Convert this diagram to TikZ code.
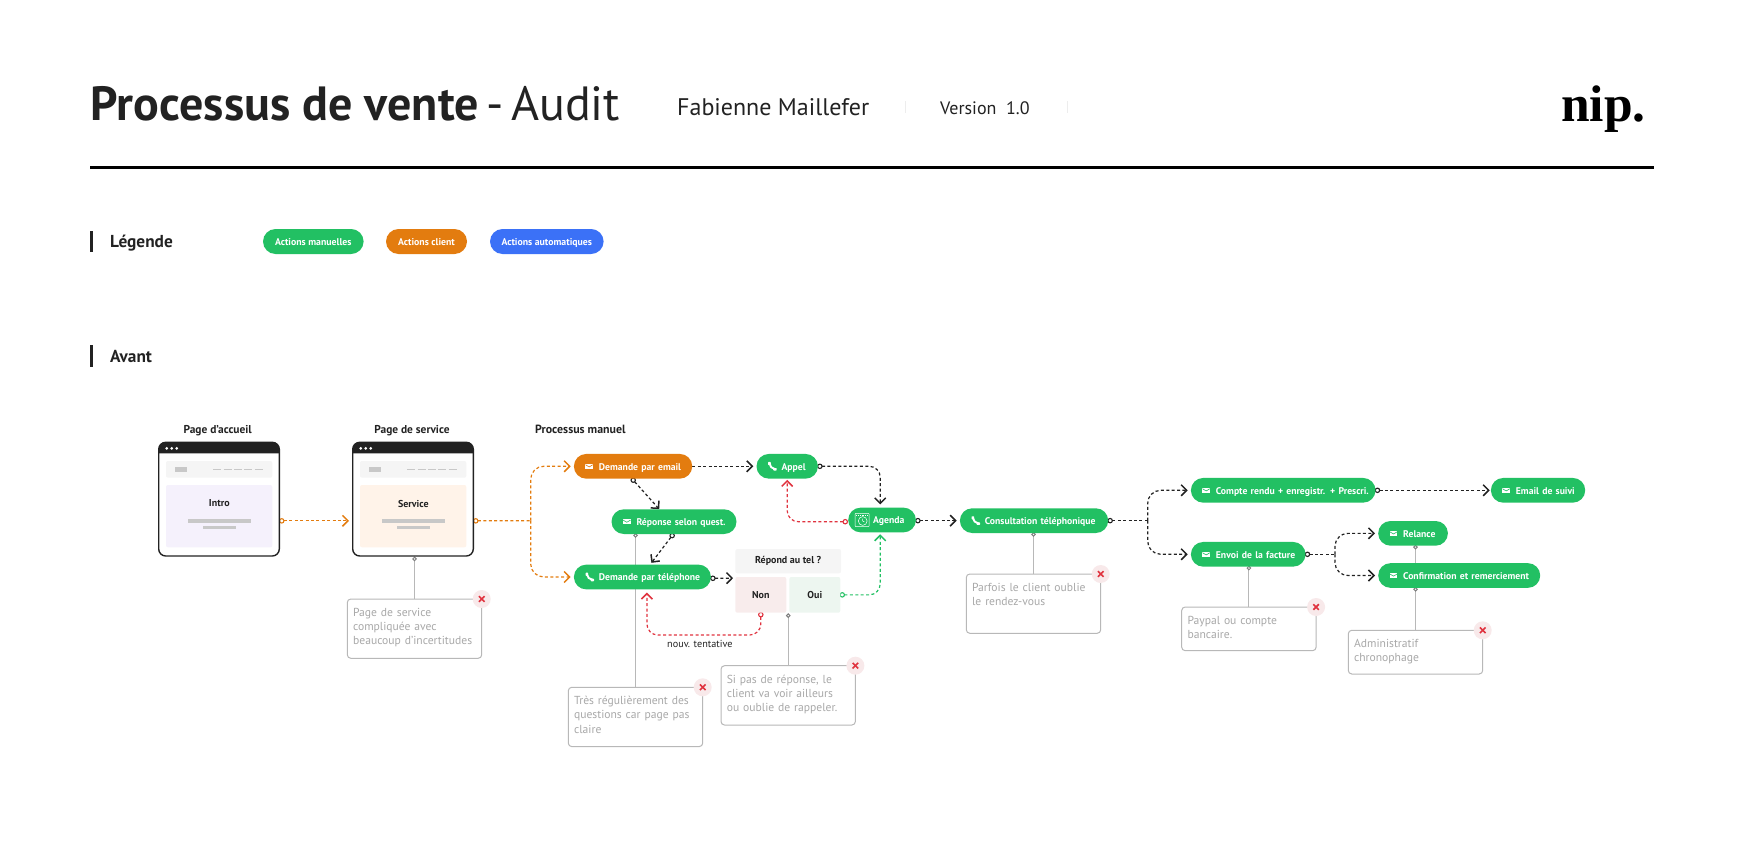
\documentclass[tikz,border=0pt]{standalone}
\usepackage{fontspec}
\setmainfont{PT Sans}
\newfontfamily\logofont{Liberation Serif}
\usetikzlibrary{arrows.meta, backgrounds}

\definecolor{pillgreen}{HTML}{22C063}
\definecolor{pillorange}{HTML}{E37C0F}
\definecolor{pillblue}{HTML}{3B71F7}
\definecolor{ink}{HTML}{222222}
\definecolor{lavender}{HTML}{F5F1FC}
\definecolor{peach}{HTML}{FFF3E9}
\definecolor{navgrey}{HTML}{F5F5F5}
\definecolor{bargrey}{HTML}{C8C8C8}
\definecolor{notegrey}{HTML}{A8A8A8}
\definecolor{noline}{HTML}{B8B8B8}
\definecolor{rednote}{HTML}{E0333F}
\definecolor{redbadge}{HTML}{F8E9EA}
\definecolor{nonpink}{HTML}{F8ECEC}
\definecolor{ouimint}{HTML}{EDF6F0}

\tikzset{
    pill/.style={text=white, font=\fontsize{9.7}{12}\selectfont\bfseries, rounded corners=12.3pt,
        anchor=west, inner xsep=0pt, inner ysep=0pt, minimum height=24.7pt,
        text height=9.5pt, text depth=2pt, align=left, text width=#1,
        execute at begin node={\hspace*{25pt}}},
    legendpill/.style={text=white, font=\fontsize{9.8}{12}\selectfont\bfseries, rounded corners=12.5pt,
        inner sep=0pt, minimum height=25pt, minimum width=#1, text height=9pt, text depth=2pt},
    heading/.style={anchor=base west, inner sep=0pt, text=ink, font=\fontsize{17.3}{20}\selectfont\bfseries},
    caption/.style={anchor=base, inner sep=0pt, text=ink, font=\fontsize{11.4}{14}\selectfont\bfseries},
    boxlabel/.style={inner sep=0pt, text=ink, font=\fontsize{10}{12}\selectfont\bfseries},
    window/.style={draw=ink, line width=1.4pt, fill=white, rounded corners=7pt, inner sep=0pt,
        minimum width=120.6pt, minimum height=113.7pt},
    note/.style={draw=noline, line width=1pt, fill=white, rounded corners=3.5pt, anchor=north west,
        outer sep=0pt, inner xsep=5.8pt, inner ysep=0pt, text width=122.8pt, align=left, text=notegrey,
        text height=17.3pt, text depth=#1,
        font=\fontsize{11.6}{14.33}\selectfont,
        execute at begin node={\hyphenpenalty=10000}},
    badge/.style={circle, fill=redbadge, inner sep=0pt, minimum size=18pt,
        path picture={
            \draw[rednote, line width=1.6pt] ([shift={(-2.8pt,-2.8pt)}]path picture bounding box.center) -- ([shift={(2.8pt,2.8pt)}]path picture bounding box.center);
            \draw[rednote, line width=1.6pt] ([shift={(-2.8pt,2.8pt)}]path picture bounding box.center) -- ([shift={(2.8pt,-2.8pt)}]path picture bounding box.center);
        }},
    arrow/.style={draw=#1, line width=1.2pt, dash pattern=on 3pt off 2.4pt, rounded corners=11pt,
        shorten >=3pt, -{Straight Barb[length=5.5pt,width=11pt,line width=1.5pt]}},
    dotarrow/.style={arrow=#1, shorten <=-1pt,
        {Circle[open,fill=white,length=5.5pt,width=5.5pt,line width=1.1pt]}-{Straight Barb[length=5.5pt,width=11pt,line width=1.5pt]}},
    plainpath/.style={draw=#1, line width=1.2pt, dash pattern=on 3pt off 2.4pt, rounded corners=11pt, shorten <=-1pt,
        {Circle[open,fill=white,length=5.5pt,width=5.5pt,line width=1.1pt]}-},
    remark/.style={draw=noline, line width=1pt, shorten <=-1pt,
        {Circle[open,fill=white,length=4.5pt,width=4.5pt,line width=1pt,color=gray]}-}
}

% icons on the left of a pill
\newcommand{\mailicon}[2]{
    \begin{scope}[shift={([xshift=15.5pt]#1.west)}]
        \fill[white] (-3.8,-2.5) rectangle (3.8,2.5);
        \draw[#2, line width=0.6pt] (-3.8,-1.6) -- (0,0.6) -- (3.8,-1.6);
    \end{scope}
}
\newcommand{\phoneicon}[1]{
    \begin{scope}[shift={([xshift=16pt]#1.west)}]
        \draw[white, line width=1.9pt] (-2.9,-3) .. controls (-2.6,0) and (-0.2,2.6) .. (3,3);
        \fill[white, rounded corners=0.7pt] (-4.2,-4.4) rectangle (-1.5,-1.2);
        \fill[white, rounded corners=0.7pt] (0.9,1.7) rectangle (4.4,4.3);
    \end{scope}
}

\begin{document}
\begin{tikzpicture}[x=1pt, y=-1pt]
    \useasboundingbox (0,0) rectangle (1746,851);

    % header
    \node[anchor=base west, inner sep=0pt, text=ink, font=\fontsize{48}{50}\selectfont] (title) at (90.5,121) {\textbf{Processus de vente}\hspace{8pt}-\hspace{7pt}Audit};
    \node[anchor=base west, inner sep=0pt, text=ink, font=\fontsize{24}{26}\selectfont] (author) at (677,115) {Fabienne Maillefer};
    \node[anchor=base west, inner sep=0pt, text=ink, font=\fontsize{18}{20}\selectfont] (version) at (940,114) {Version\ \ 1.0};
    \node[anchor=base east, inner sep=0pt, text=black, font=\fontsize{51.5}{54}\selectfont\logofont\bfseries] (logo) at (1646,121.5) {nip.};
    \draw[navgrey!70!gray!40, line width=1pt] (905,101) -- (905,113);
    \draw[navgrey!70!gray!40, line width=1pt] (1067,101) -- (1067,113);
    \draw[black, line width=3pt] (90,167.7) -- (1653.6,167.7);

    % legend
    \fill[ink] (90,231) rectangle (92.5,252);
    \node[heading] (legend) at (110,247.6) {Légende};
    \node[legendpill=100.6pt, fill=pillgreen] (legendgreen) at (313.3,241.5) {Actions manuelles};
    \node[legendpill=81pt, fill=pillorange] (legendorange) at (426.5,241.5) {Actions client};
    \node[legendpill=113.6pt, fill=pillblue] (legendblue) at (546.8,241.5) {Actions automatiques};

    % section
    \fill[ink] (90,345) rectangle (92.5,366.7);
    \node[heading] (before) at (110,362.7) {Avant};

    % web pages
    \node[caption] (homecap) at (217.7,433) {Page d’accueil};
    \node[caption] (servicecap) at (412,433) {Page de service};
    \node[caption, anchor=base west, font=\fontsize{11.9}{14}\selectfont\bfseries] (manualcap) at (535,433) {Processus manuel};
    \foreach \wx/\wname/\wtint/\wtext in {0/home/lavender/Intro, 194/service/peach/Service} {
        \begin{scope}[xshift=\wx pt]
            \node[window] (\wname) at (219,499.15) {};
            \fill[ink, rounded corners=7pt] (158.7,453.3) [sharp corners] -- (158.7,453.3) [rounded corners=7pt] -- (158.7,442.3) -- (279.3,442.3) [sharp corners] -- (279.3,453.3) -- cycle;
            \foreach \dx in {166.7,171.7,176.7}
                \fill[white] (\dx,448.3) circle (1.5);
            \fill[navgrey, rounded corners=2pt] (166,461) rectangle (272.3,477.7);
            \fill[bargrey] (174.7,467.3) rectangle (187,471.7);
            \draw[bargrey, line width=1.1pt, dash pattern=on 8pt off 2.35pt] (213.3,469.3) -- (262.7,469.3);
            \fill[\wtint, rounded corners=2pt] (166,485) rectangle (272.3,547.3);
            \node[boxlabel] (\wname-text) at (219.3,503.5) {\wtext};
            \fill[bargrey] (188,519.3) rectangle (251,523);
            \fill[bargrey] (203,525.7) rectangle (236,529);
        \end{scope}
    }

    % process steps
    \node[pill=118.3pt, fill=pillorange] (dmail) at (573.7,466.3) {\mbox{Demande par email}};
    \node[pill=125pt, fill=pillgreen] (reply) at (611.3,521.65) {\mbox{Réponse selon quest.}};
    \node[pill=137pt, fill=pillgreen] (dtel) at (573.7,577) {\mbox{Demande par téléphone}};
    \node[pill=61.4pt, fill=pillgreen] (call) at (756.3,466.3) {\mbox{Appel}};
    \node[pill=67.7pt, fill=pillgreen] (agenda) at (848,520) {\mbox{Agenda}};
    \node[pill=148.3pt, fill=pillgreen] (consult) at (959.7,520.65) {\mbox{Consultation téléphonique}};
    \node[pill=184.6pt, fill=pillgreen] (report) at (1190.7,490.3) {\mbox{Compte rendu + enregistr. + Prescri.}};
    \node[pill=114.6pt, fill=pillgreen] (invoice) at (1190.7,554.3) {\mbox{Envoi de la facture}};
    \node[pill=94.3pt, fill=pillgreen] (followup) at (1490.7,490.3) {\mbox{Email de suivi}};
    \node[pill=69.7pt, fill=pillgreen] (remind) at (1378,533.35) {\mbox{Relance}};
    \node[pill=162pt, fill=pillgreen] (thanks) at (1378,575.5) {\mbox{Confirmation et remerciement}};

    % icons
    \mailicon{dmail}{pillorange}
    \mailicon{reply}{pillgreen}
    \mailicon{report}{pillgreen}
    \mailicon{invoice}{pillgreen}
    \mailicon{followup}{pillgreen}
    \mailicon{remind}{pillgreen}
    \mailicon{thanks}{pillgreen}
    \phoneicon{dtel}
    \phoneicon{call}
    \phoneicon{consult}
    \begin{scope}[shift={([xshift=14.2pt]agenda.west)}]
        \draw[white, line width=0.5pt, rounded corners=0.8pt] (-7,-6.7) rectangle (7,6.7);
        \draw[white, line width=0.7pt, dash pattern=on 0.9pt off 0.9pt] (-6,-5) -- (6,-5);
        \draw[white, line width=0.5pt] (0.5,1) circle (4.4);
        \draw[white, line width=0.5pt] (0.5,-1.4) -- (0.5,1) -- (2.2,2);
    \end{scope}

    % question box
    \node[fill=navgrey, rounded corners=2pt, minimum width=105.7pt, minimum height=24.3pt, inner sep=0pt, text=ink, font=\fontsize{10}{13}\selectfont\bfseries] (answer) at (788.2,561.15) {Répond au tel ?};
    \node[boxlabel, fill=nonpink, rounded corners=2pt, minimum width=51pt, minimum height=35.7pt] (no) at (760.8,594.85) {Non};
    \node[boxlabel, fill=ouimint, rounded corners=2pt, minimum width=51pt, minimum height=35.7pt] (yes) at (814.8,594.85) {Oui};
    \node[anchor=base west, inner sep=0pt, text=ink, font=\fontsize{10.2}{13}\selectfont] (retrylabel) at (667,647.3) {nouv. tentative};

    % notes
    \node[note=42pt] (servicenote) at (347.3,599) {Page de service\\compliquée avec\\beaucoup d’incertitudes};
    \node[note=42pt] (replynote) at (568.3,687.3) {Très régulièrement des\\questions car page pas\\claire};
    \node[note=42pt] (callnote) at (721,665.7) {Si pas de réponse, le\\client va voir ailleurs\\ou oublie de rappeler.};
    \node[note=42pt] (consultnote) at (966.3,574) {Parfois le client oublie\\le rendez-vous};
    \node[note=26.4pt] (invoicenote) at (1181.7,607) {Paypal ou compte\\bancaire.};
    \node[note=26.4pt] (thanksnote) at (1348.3,630.3) {Administratif\\chronophage};
    \node[badge] (servicebadge) at (servicenote.north east) {};
    \node[badge] (replybadge) at (replynote.north east) {};
    \node[badge] (callbadge) at (callnote.north east) {};
    \node[badge] (consultbadge) at (consultnote.north east) {};
    \node[badge] (invoicebadge) at (invoicenote.north east) {};
    \node[badge] (thanksbadge) at (thanksnote.north east) {};

    % split points
    \coordinate (pagesplit) at (530.7,520.7);
    \coordinate (consultsplit) at (1147.7,520.65);
    \coordinate (invoicesplit) at (1335,554.3);
    \coordinate (retrymid) at (700,635);

    \begin{scope}[on background layer]
        % remarks
        \draw[remark, shorten <=0pt] (service.south -| servicenote.north) -- (servicenote.north);
        \draw[remark] (reply.south -| replynote.north) -- (replynote.north);
        \draw[remark, shorten <=0.5pt] (no.south -| callnote.north) -- (callnote.north);
        \draw[remark] (consult.south -| consultnote.north) -- (consultnote.north);
        \draw[remark] (invoice.south -| invoicenote.north) -- (invoicenote.north);
        \draw[remark] (remind.south -| thanksnote.north) -- (thanks.north -| thanksnote.north);
        \draw[remark] (thanks.south -| thanksnote.north) -- (thanksnote.north);
        % orange flows
        \draw[dotarrow=pillorange] ([yshift=-21.7pt]home.east) -- ([yshift=-21.7pt]service.west);
        \draw[plainpath=pillorange] ([yshift=-21.7pt]service.east) -- (pagesplit);
        \draw[arrow=pillorange, rounded corners=13pt] (pagesplit) |- (dmail.west);
        \draw[arrow=pillorange, rounded corners=13pt] (pagesplit) |- (dtel.west);
        % black flows
        \draw[arrow=ink] (dmail.east) -- (call.west);
        \draw[dotarrow=ink] (call.east) -| ([xshift=-1.85pt]agenda.north);
        \draw[dotarrow=ink, shorten >=0pt] ([xshift=-1pt]dmail.south) -- ([xshift=-14.8pt]reply.north);
        \draw[dotarrow=ink, shorten >=2pt] ([xshift=-0.8pt]reply.south) -- ([xshift=7.8pt]dtel.north);
        \draw[dotarrow=ink, shorten >=2pt] ([yshift=-1.3pt]dtel.east) -- ([yshift=-1.3pt]no.north west);
        \draw[dotarrow=ink] ([yshift=-0.65pt]agenda.east) -- (consult.west);
        \draw[plainpath=ink] (consult.east) -- (consultsplit);
        \draw[arrow=ink, rounded corners=13pt] (consultsplit) |- (report.west);
        \draw[arrow=ink, rounded corners=13pt] (consultsplit) |- (invoice.west);
        \draw[dotarrow=ink, shorten >=1pt] (report.east) -- (followup.west);
        \draw[plainpath=ink] (invoice.east) -- (invoicesplit);
        \draw[arrow=ink, rounded corners=13pt] (invoicesplit) |- (remind.west);
        \draw[arrow=ink, rounded corners=13pt] (invoicesplit) |- (thanks.west);
        % red and green flows
        \draw[dotarrow=rednote, shorten <=0pt, shorten >=1pt] ([yshift=-1.7pt]agenda.west) -| (call.south);
        \draw[dotarrow=rednote] (no.south) |- (retrymid) -| ([xshift=4.5pt]dtel.south);
        \draw[dotarrow=pillgreen, shorten >=1.7pt] (yes.east) -| ([xshift=-1.85pt]agenda.south);
    \end{scope}
\end{tikzpicture}
\end{document}
